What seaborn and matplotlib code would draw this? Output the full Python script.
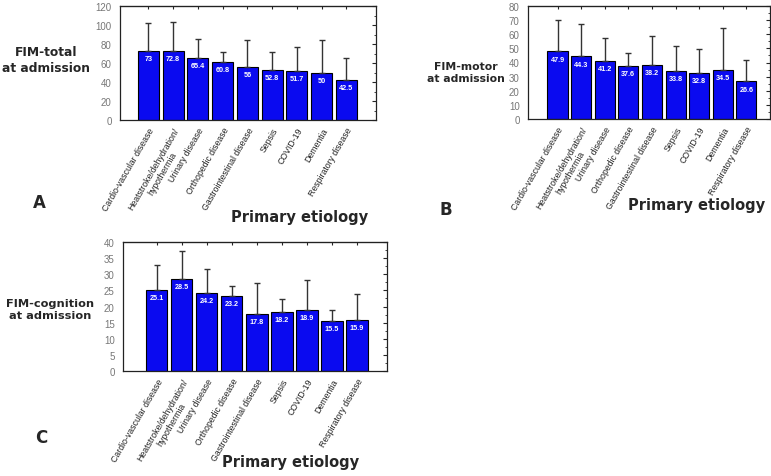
import numpy as np
import pandas as pd
import matplotlib
matplotlib.use("Agg")
import matplotlib.pyplot as plt
from matplotlib.ticker import MultipleLocator, AutoMinorLocator
import seaborn as sns

categories = ["Cardio-vascular disease", "Heatstroke/dehydration/\nhypothermia",
              "Urinary disease", "Orthopedic disease", "Gastrointestinal disease",
              "Sepsis", "COVID-19", "Dementia", "Respiratory disease"]

# panel A: FIM-total
total_mean = [73, 72.8, 65.4, 60.8, 56, 52.8, 51.7, 50, 42.5]
total_sd = [29, 30.2, 19.6, 11.2, 28, 19.2, 25.3, 34, 22.5]
# panel B: FIM-motor
motor_mean = [47.9, 44.3, 41.2, 37.6, 38.2, 33.8, 32.8, 34.5, 26.6]
motor_sd = [22.1, 22.7, 15.8, 9.4, 20.8, 18.2, 16.7, 30.0, 15.4]
# panel C: FIM-cognition
cog_mean = [25.1, 28.5, 24.2, 23.2, 17.8, 18.2, 18.9, 15.5, 15.9]
cog_sd = [7.9, 8.7, 7.3, 3.2, 9.4, 4.0, 9.3, 3.5, 8.1]

W, H = 771, 477
sns.set_style("white")
plt.rcParams['font.family'] = ['DejaVu Sans']

fig = plt.figure(figsize=(W / 100, H / 100), dpi=100)


def px_axes(left, top, right, bottom):
    return fig.add_axes([left / W, 1 - bottom / H, (right - left) / W, (bottom - top) / H])


def draw_panel(ax, means, sds, ymax, ystep, xlim):
    df = pd.DataFrame({"cat": categories, "val": means})
    sns.barplot(data=df, x="cat", y="val", ax=ax, color="#0a0af0", saturation=1,
                edgecolor="black", linewidth=0.8, width=0.85)
    xs = np.arange(len(means))
    ax.errorbar(xs, means, yerr=[np.zeros(len(sds)), sds], fmt="none",
                ecolor="#333333", elinewidth=1.0, capsize=2.5, capthick=1.0, zorder=1)
    for x, m in zip(xs, means):
        ax.annotate(f"{m:g}", (x, m), xytext=(0, -3), textcoords="offset points",
                    ha="center", va="top", color="white", fontsize=5.2,
                    fontweight="bold", family="Liberation Sans")
    ax.set_ylim(0, ymax)
    ax.set_xlim(*xlim)
    ax.yaxis.set_major_locator(MultipleLocator(ystep))
    ax.yaxis.set_minor_locator(AutoMinorLocator(2))
    ax.set_xlabel("")
    ax.set_ylabel("")
    ax.set_xticks(xs)
    ax.set_xticklabels(categories, rotation=60, ha="right", rotation_mode="anchor",
                       fontsize=6.3, color="#222222", family="Liberation Sans",
                       multialignment="center")
    ax.tick_params(axis="x", which="both", length=0, pad=4)
    ax.tick_params(axis="y", which="major", direction="in", length=3, width=0.8,
                   right=True, labelsize=7, labelcolor="#777777", pad=6)
    ax.tick_params(axis="y", which="minor", direction="in", length=1.5, width=0.6, right=True)
    for lab in ax.get_yticklabels():
        lab.set_family("Liberation Sans")
    sec = ax.secondary_xaxis("top")
    sec.set_xticks(xs)
    sec.set_xticklabels([])
    sec.tick_params(direction="in", length=2.5, width=0.8)
    for s in ax.spines.values():
        s.set_visible(True)
        s.set_color("#222222")
        s.set_linewidth(0.9)
    sec.spines["top"].set_color("#222222")
    ax.grid(False)


axA = px_axes(120, 7, 376, 121)
draw_panel(axA, total_mean, total_sd, 120, 20, (-1.15, 9.2))
axB = px_axes(528, 7, 770, 120)
draw_panel(axB, motor_mean, motor_sd, 80, 10, (-1.25, 9.0))
axC = px_axes(123, 243, 387, 372)
draw_panel(axC, cog_mean, cog_sd, 40, 5, (-1.35, 9.2))


def ftext(x, y, s, **kw):
    fig.text(x / W, 1 - y / H, s, **kw)


lab_kw = dict(ha="center", va="center", fontweight="bold", linespacing=1.3)
ftext(46, 61, "FIM-total\nat admission", fontsize=8.8, **lab_kw)
ftext(466, 73, "FIM-motor\nat admission", fontsize=7.8, **lab_kw)
ftext(50, 310, "FIM-cognition\nat admission", fontsize=8.2, **lab_kw)

pe_kw = dict(ha="center", va="center", fontsize=10.5, fontweight="bold")
ftext(300, 218, "Primary etiology", **pe_kw)
ftext(697, 206, "Primary etiology", **pe_kw)
ftext(291, 463, "Primary etiology", **pe_kw)

let_kw = dict(ha="center", va="center", fontsize=12, fontweight="bold")
ftext(39, 203, "A", **let_kw)
ftext(446, 210, "B", **let_kw)
ftext(41, 438, "C", **let_kw)

fig.savefig("out.png", dpi=100, facecolor="white")
